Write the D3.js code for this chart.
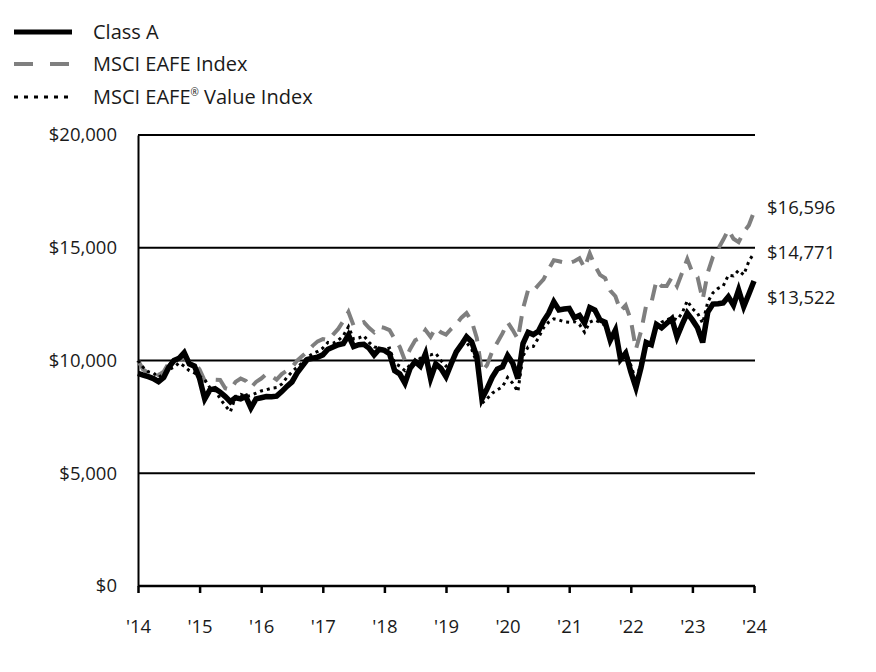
<!DOCTYPE html>
<html><head><meta charset="utf-8">
<script src="https://cdn.jsdelivr.net/npm/d3@7"></script>
<style>body{margin:0;background:#fff}svg{display:block}</style>
</head><body><svg id="c" width="876" height="672"></svg>
<script>
const yearLabels = ["'14","'15","'16","'17","'18","'19","'20","'21","'22","'23","'24"];
const yTicks = [0,5000,10000,15000,20000];
const seriesNames = ["Class A","MSCI EAFE Index","MSCI EAFE® Value Index"];
const endLabels = ["$13,522","$16,596","$14,771"];
// monthly values, 121 points (month 0 .. 120)
const classA = [9425,9350,9280,9200,9060,9250,9700,10000,10100,10350,9850,9750,
 9200,8300,8700,8750,8600,8400,8170,8350,8300,8400,7900,8300,
 8350,8400,8390,8420,8620,8850,9050,9450,9750,10050,10100,10150,
 10250,10500,10600,10700,10750,11130,10620,10700,10720,10550,10250,10500,
 10450,10300,9550,9400,9000,9650,9950,9750,10300,9200,9850,9650,
 9280,9850,10380,10700,11050,10830,10170,8300,8750,9250,9620,9720,
 10220,9880,9200,10750,11250,11150,11300,11750,12100,12600,12240,12280,
 12310,11900,12000,11650,12350,12240,11800,11700,10900,11350,10050,10330,
 9500,8800,9700,10800,10700,11600,11450,11650,11850,11050,11600,12100,
 11800,11450,10800,12150,12500,12520,12550,12830,12450,13130,12390,12950,
 13522];
const eafe = [10000,9600,9450,9500,9350,9500,9900,9950,10050,10100,9950,9900,
 9600,9100,9150,9150,9140,8770,8700,9050,9200,9100,8800,9050,
 9200,9400,9300,9150,9400,9550,9700,10000,10200,10400,10650,10850,
 10950,10900,11150,11400,11750,12150,11550,11600,11700,11450,11250,11500,
 11450,11350,10950,10600,10000,10500,10900,11000,11350,11050,11450,11250,
 11150,11400,11600,11900,12100,11750,11000,9500,9800,10400,10800,11200,
 11700,11350,10950,12300,13130,13080,13350,13600,14050,14450,14400,14350,
 14320,14400,14530,14100,14750,14200,13800,13650,13100,12850,12200,12450,
 11800,10500,11300,12450,12550,13550,13300,13300,13700,13300,13900,14500,
 13900,13700,12700,13900,14600,14950,15350,15800,15400,15250,15700,16000,
 16596];
const eafeValue = [10000,9700,9500,9450,9250,9400,9600,9700,9900,9750,9550,9450,
 9300,9150,8800,8700,8300,8000,7730,8400,8500,8400,8450,8550,
 8650,8700,8770,8800,8950,9250,9500,9700,9900,10150,10300,10400,
 10550,10800,10760,10900,11100,11500,10950,11000,11100,10800,10600,10550,
 10480,10550,9880,9750,9550,9800,9950,10100,10330,10250,10320,10000,
 9750,9900,10300,10700,10800,10500,9900,8100,8300,8550,8700,8840,
 9250,8990,8620,10200,10600,10620,11000,11450,11700,11850,11800,11720,
 11700,11720,11600,11250,11700,11800,11700,11550,11000,11200,10300,10400,
 9800,9100,9900,10800,10900,11500,11700,11800,11900,11800,12100,12650,
 12300,12100,11650,12600,13000,13200,13300,13780,13750,14000,13800,14400,
 14771];

const svg = d3.select("#c");
const font = "'Open Sans', 'Noto Sans', sans-serif";
const ink = "#1a1a1a";
const x = d3.scaleLinear().domain([0,120]).range([138,754]);
const y = d3.scaleLinear().domain([0,20000]).range([586,135]);

// gridlines
svg.append("g").selectAll("line").data(yTicks.filter(d=>d>0)).join("line")
  .attr("x1",x(0)).attr("x2",x(120)+1).attr("y1",d=>y(d)).attr("y2",d=>y(d))
  .attr("stroke","#000").attr("stroke-width",2);

// y axis
const yAxis = svg.append("g").attr("transform",`translate(${x(0)},0)`)
  .call(d3.axisLeft(y).tickValues(yTicks).tickSize(0).tickPadding(21)
    .tickFormat(d=>"$"+d3.format(",")(d)));
yAxis.select(".domain").attr("stroke","#000").attr("stroke-width",2);
yAxis.selectAll("text").attr("font-family",font).attr("font-size",18.5).attr("fill",ink);

// x axis
const xAxis = svg.append("g").attr("transform",`translate(0,${y(0)})`)
  .call(d3.axisBottom(x).tickValues(d3.range(0,121,12)).tickSize(7).tickPadding(27)
    .tickFormat((d,i)=>yearLabels[i]));
xAxis.select(".domain").attr("stroke","#000").attr("stroke-width",2.5).attr("d",`M${x(0)},0H${x(120)+1}`);
xAxis.selectAll(".tick line").attr("stroke","#000").attr("stroke-width",2.5);
xAxis.selectAll("text").attr("font-family",font).attr("font-size",18.5).attr("fill",ink);

const line = d3.line().x((d,i)=>x(i)).y(d=>y(d));
const styles = [
  {data:classA, stroke:"#000", w:5.5, dash:null},
  {data:eafe, stroke:"#7f7f7f", w:4, dash:"16,10"},
  {data:eafeValue, stroke:"#000", w:3, dash:"3,4"}
];
[1,0,2].forEach(k=>{
  const s = styles[k];
  svg.append("path").datum(s.data).attr("d",line).attr("fill","none")
    .attr("stroke",s.stroke).attr("stroke-width",s.w)
    .attr("stroke-dasharray",s.dash).attr("stroke-linejoin","miter");
});

// end labels
const endY = [298, 208, 253];
svg.append("g").selectAll("text").data(endLabels).join("text")
  .attr("x",767).attr("y",(d,i)=>endY[i]).attr("dy","0.35em")
  .attr("font-family",font).attr("font-size",18.5).attr("fill",ink).text(d=>d);

// legend
const lg = svg.append("g");
const legY = [32,64,97];
styles.forEach((s,i)=>{
  lg.append("line").attr("x1",14).attr("x2",72).attr("y1",legY[i]).attr("y2",legY[i])
    .attr("stroke",s.stroke).attr("stroke-width",i===0?5:s.w)
    .attr("stroke-dasharray", i===1 ? "19,17" : (i===2 ? "4,6" : null));
});
[0,1].forEach(i=>{
  lg.append("text").attr("x",93).attr("y",legY[i]+7)
    .attr("font-family",font).attr("font-size",20).attr("fill",ink).text(seriesNames[i]);
});
const t3 = lg.append("text").attr("x",93).attr("y",legY[2]+7)
  .attr("font-family",font).attr("font-size",20).attr("fill",ink);
const parts = seriesNames[2].split("®");
t3.append("tspan").text(parts[0]);
t3.append("tspan").attr("font-size",10).attr("dy",-8).text("®");
t3.append("tspan").attr("dy",8).text(" " + parts[1].trim());
</script></body></html>
